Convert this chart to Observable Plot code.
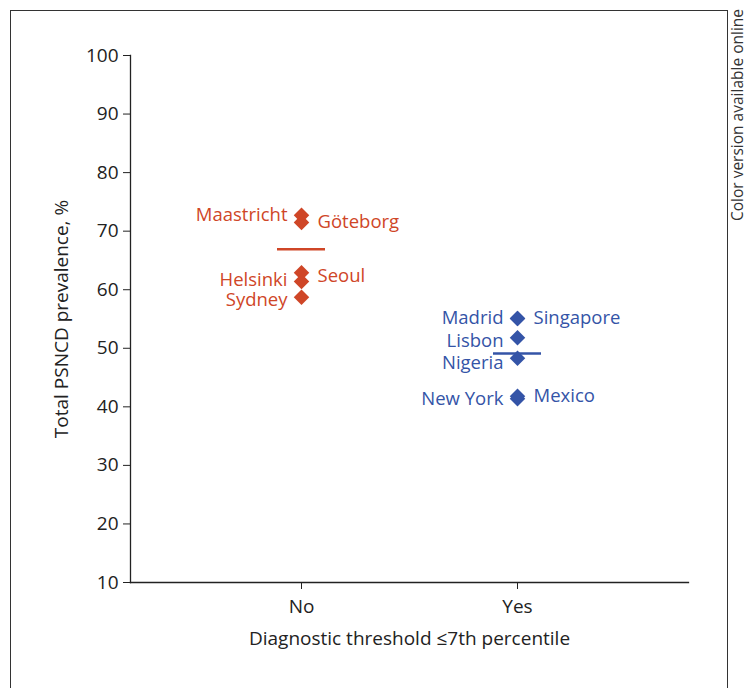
<!DOCTYPE html>
<html>
<head>
<meta charset="utf-8">
<script src="https://cdn.jsdelivr.net/npm/d3@7"></script>
<script src="https://cdn.jsdelivr.net/npm/@observablehq/plot@0.6"></script>
<style>
  body { margin: 0; background: #fff; font-family: "Open Sans", sans-serif; }
  #wrap { position: relative; width: 747px; height: 688px; overflow: hidden; }
  #border { position: absolute; left: 10px; top: 10px; width: 718px; height: 700px;
            border: 1px solid #333; border-bottom: none; box-sizing: border-box; }
  #note { position: absolute; left: 738px; top: 115px; transform: translate(-50%, -50%) rotate(-90deg);
          white-space: nowrap; font-size: 15.5px; line-height: 1; color: #333; }
  #chart { position: absolute; left: 0; top: 0; }
</style>
</head>
<body>
<div id="wrap">
  <div id="border"></div>
  <div id="note">Color version available online</div>
  <div id="chart"></div>
</div>
<script>
// Groups (x categories)
const groups = ["No", "Yes"];
const groupColors = ["#cf4627", "#3454a7"];

// Sites: name, group, total PSNCD prevalence (%), label side
const sites     = ["Maastricht", "Göteborg", "Seoul", "Helsinki", "Sydney",
                   "Madrid", "Singapore", "Lisbon", "Nigeria", "New York", "Mexico"];
const siteGroup = ["No", "No", "No", "No", "No",
                   "Yes", "Yes", "Yes", "Yes", "Yes", "Yes"];
const prevalence = [72.7, 71.5, 62.9, 61.4, 58.7,
                    55.1, 55.1, 51.8, 48.3, 41.4, 41.8];
const labelSide = ["left", "right", "right", "left", "left",
                   "left", "right", "left", "left", "left", "right"];

// Group mean lines
const meanValues = [66.9, 49.1];

// Y ticks
const yTicks = [10, 20, 30, 40, 50, 60, 70, 80, 90, 100];

const data = sites.map((s, i) => ({site: s, group: siteGroup[i], value: prevalence[i], side: labelSide[i]}));
const means = groups.map((g, i) => ({group: g, value: meanValues[i]}));
const colorOf = g => groupColors[groups.indexOf(g)];

// small vertical label nudges (px) to keep labels apart
const labelNudge = {"Seoul": 3, "Helsinki": -1, "Sydney": 3, "Lisbon": 3, "Nigeria": 5};

const FS = 18.5;
const labelMarks = [];
for (const side of ["left", "right"]) {
  const rows = data.filter(d => d.side === side);
  const nudges = Array.from(new Set(rows.map(d => labelNudge[d.site] || 0)));
  for (const n of nudges) {
    labelMarks.push(Plot.text(rows.filter(d => (labelNudge[d.site] || 0) === n), {
      x: "group", y: "value", text: "site",
      textAnchor: side === "left" ? "end" : "start",
      dx: side === "left" ? -14 : 16, dy: n,
      fill: d => colorOf(d.group), fontSize: FS
    }));
  }
}

const W = 747, H = 688;
const plot = Plot.plot({
  width: W,
  height: H,
  marginLeft: 130,
  marginRight: 59,
  marginTop: 55,
  marginBottom: 106,
  style: {fontFamily: "Open Sans, sans-serif", fontSize: FS + "px", color: "#222", background: "transparent"},
  x: {domain: groups, type: "band", paddingInner: 0, paddingOuter: 0.286, label: null},
  y: {domain: [10, 100], label: null},
  marks: [
    Plot.frame({anchor: "left", stroke: "#222", strokeWidth: 1.3}),
    Plot.frame({anchor: "bottom", stroke: "#222", strokeWidth: 1.3}),
    Plot.axisY({ticks: yTicks, tickSize: 7, tickPadding: 5, fontSize: 19, stroke: "#222",
                label: "Total PSNCD prevalence, %", labelAnchor: "center", labelArrow: "none", labelOffset: 76}),
    Plot.axisX({tickSize: 7, tickPadding: 10, fontSize: 19, stroke: "#222",
                label: "Diagnostic threshold ≤7th percentile", labelAnchor: "center", labelArrow: "none", labelOffset: 62}),
    Plot.tickY(means, {x: "group", y: "value", stroke: d => colorOf(d.group), strokeWidth: 2.5,
                       insetLeft: 84, insetRight: 84}),
    Plot.dot(data, {x: "group", y: "value", symbol: "diamond2", r: 7,
                    fill: d => colorOf(d.group), stroke: "none"}),
    ...labelMarks
  ]
});
document.getElementById("chart").appendChild(plot);
</script>
</body>
</html>
